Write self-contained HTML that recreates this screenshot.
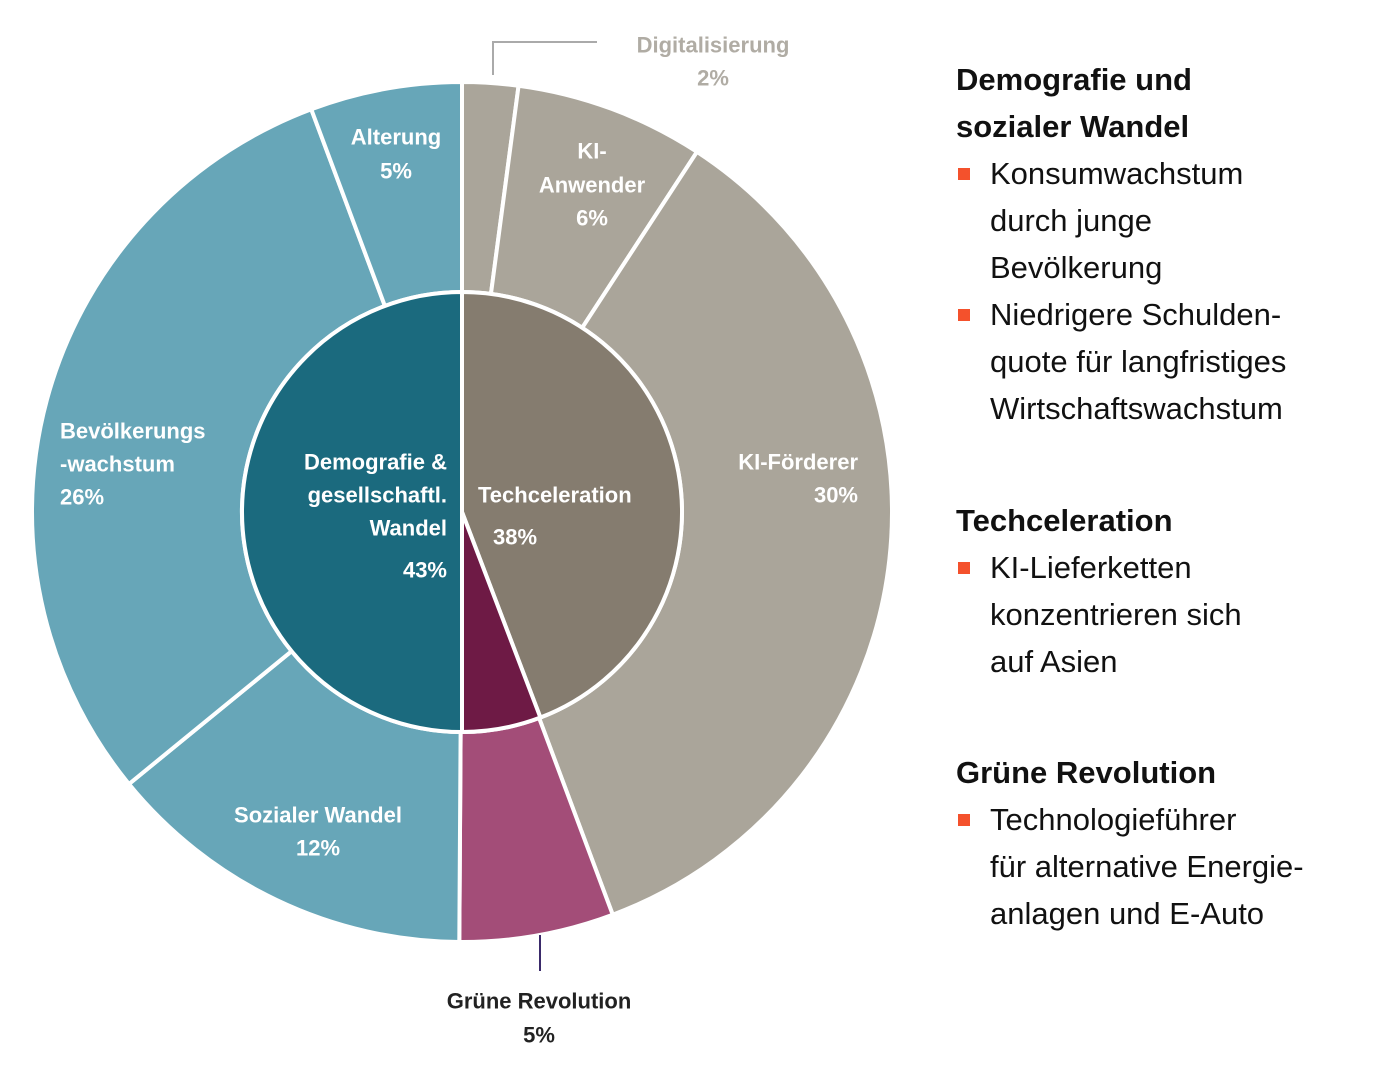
<!DOCTYPE html>
<html><head><meta charset="utf-8"><style>
html,body{margin:0;padding:0;background:#fff;}
body{width:1400px;height:1069px;position:relative;overflow:hidden;font-family:"Liberation Sans",sans-serif;}
.side{position:absolute;left:956px;color:#111;}
.h{position:absolute;left:956px;font-weight:bold;font-size:31px;line-height:47px;color:#111;white-space:nowrap;}
.b{position:absolute;left:990px;font-size:31px;line-height:47px;color:#111;white-space:nowrap;}
.sq{position:absolute;left:958px;width:12px;height:12px;background:#f4512c;}
</style></head><body>
<svg id="chart" width="940" height="1069" style="position:absolute;left:0;top:0" font-family="Liberation Sans, sans-serif"></svg>

<div class="h" style="top:56px">Demografie und<br>sozialer Wandel</div>
<div class="sq" style="top:168px"></div>
<div class="b" style="top:150px">Konsumwachstum<br>durch junge<br>Bevölkerung</div>
<div class="sq" style="top:309px"></div>
<div class="b" style="top:291px">Niedrigere Schulden-<br>quote für langfristiges<br>Wirtschaftswachstum</div>
<div class="h" style="top:497px">Techceleration</div>
<div class="sq" style="top:562px"></div>
<div class="b" style="top:544px">KI-Lieferketten<br>konzentrieren sich<br>auf Asien</div>
<div class="h" style="top:749px">Grüne Revolution</div>
<div class="sq" style="top:814px"></div>
<div class="b" style="top:796px">Technologieführer<br>für alternative Energie-<br>anlagen und E-Auto</div>

<script>
// angular shares (percent of full circle) as drawn
const innerCats = ["Techceleration","Grüne Revolution","Demografie"];
const innerShares = [44.2, 5.8, 50];
const innerColors = ["#857c6f","#6e1a45","#1b6a7e"];
const outerCats = ["Digitalisierung","KI-Anwender","KI-Förderer","Grüne Revolution","Sozialer Wandel","Bevölkerungswachstum","Alterung"];
const outerShares = [2.1, 7.1, 35.1, 5.8, 14.0, 30.2, 5.7];
const outerColors = ["#aaa59a","#aaa59a","#aaa59a","#a34d78","#67a6b8","#67a6b8","#67a6b8"];

const svg = document.getElementById('chart');
const NS = "http://www.w3.org/2000/svg";
const cx = 462, cy = 512, rIn = 220, rOut = 430;
function pt(r, pct){ const a = pct/100*2*Math.PI; return [cx + r*Math.sin(a), cy - r*Math.cos(a)]; }
function arc(r0, r1, p0, p1){
  const large = (p1-p0) > 50 ? 1 : 0;
  const [x1,y1]=pt(r1,p0),[x2,y2]=pt(r1,p1);
  if(r0===0){ return `M${cx},${cy}L${x1},${y1}A${r1},${r1} 0 ${large} 1 ${x2},${y2}Z`; }
  const [x3,y3]=pt(r0,p1),[x4,y4]=pt(r0,p0);
  return `M${x1},${y1}A${r1},${r1} 0 ${large} 1 ${x2},${y2}L${x3},${y3}A${r0},${r0} 0 ${large} 0 ${x4},${y4}Z`;
}
function draw(shares, colors, cats, r0, r1, prefix){
  let acc = 0;
  shares.forEach((v,i)=>{
    const p = document.createElementNS(NS,'path');
    p.setAttribute('d', arc(r0, r1, acc, acc+v));
    p.setAttribute('fill', colors[i]);
    p.setAttribute('stroke', '#fff');
    p.setAttribute('stroke-width', '4');
    
    
    svg.appendChild(p);
    acc += v;
  });
}
draw(outerShares, outerColors, outerCats, rIn, rOut, 'outer-slice');
draw(innerShares, innerColors, innerCats, 0, rIn, 'inner-slice');

function line(d, color, w, name){
  const p = document.createElementNS(NS,'path');
  p.setAttribute('d', d); p.setAttribute('fill','none'); p.setAttribute('stroke', color); p.setAttribute('stroke-width', w);
  
  
  svg.appendChild(p);
}
line('M493,75V42H597', '#aaa', 2, 'digitalisierung-leader-line');
line('M540,935V971', '#3a2a6a', 2, 'gruene-leader-line');

const labels = [
  ["Alterung",396,137,"middle","#fff","label-alterung"],["5%",396,171,"middle","#fff","value-alterung"],
  ["KI-",592,151,"middle","#fff","label-ki-anwender"],["Anwender",592,185,"middle","#fff","label-ki-anwender"],["6%",592,218,"middle","#fff","value-ki-anwender"],
  ["KI-Förderer",858,462,"end","#fff","label-ki-foerderer"],["30%",858,495,"end","#fff","value-ki-foerderer"],
  ["Bevölkerungs",60,431,"start","#fff","label-bevoelkerung"],["-wachstum",60,464,"start","#fff","label-bevoelkerung"],["26%",60,497,"start","#fff","value-bevoelkerung"],
  ["Demografie &",447,462,"end","#fff","label-demografie"],["gesellschaftl.",447,495,"end","#fff","label-demografie"],["Wandel",447,528,"end","#fff","label-demografie"],["43%",447,570,"end","#fff","value-demografie"],
  ["Techceleration",478,495,"start","#fff","label-techceleration"],["38%",493,537,"start","#fff","value-techceleration"],
  ["Sozialer Wandel",318,815,"middle","#fff","label-sozialer-wandel"],["12%",318,848,"middle","#fff","value-sozialer-wandel"],
  ["Grüne Revolution",539,1001,"middle","#222","label-gruene-revolution"],["5%",539,1035,"middle","#222","value-gruene-revolution"],
  ["Digitalisierung",713,45,"middle","#b0aca4","label-digitalisierung"],["2%",713,78,"middle","#b0aca4","value-digitalisierung"]
];
labels.forEach(l=>{
  const t = document.createElementNS(NS,'text');
  t.textContent = l[0];
  t.setAttribute('x', l[1]); t.setAttribute('y', l[2]);
  t.setAttribute('text-anchor', l[3]); t.setAttribute('fill', l[4]);
  t.setAttribute('dominant-baseline','central');
  t.setAttribute('font-size','22'); t.setAttribute('font-weight','bold');
  
  
  svg.appendChild(t);
});
</script>
</body></html>
